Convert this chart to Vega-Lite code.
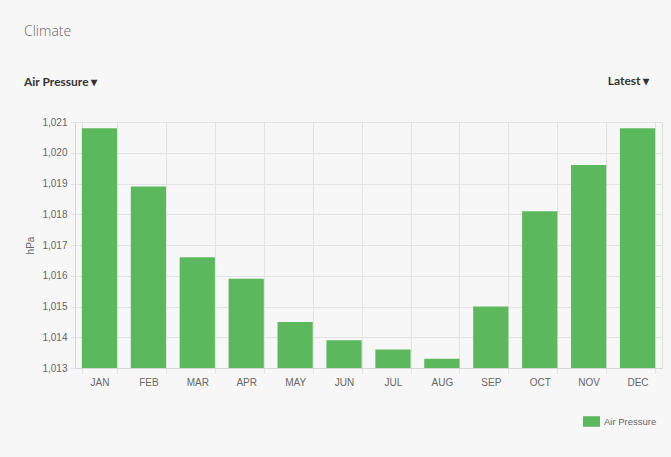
{
  "$schema": "https://vega.github.io/schema/vega-lite/v6.json",
  "width": 587,
  "height": 246,
  "autosize": {"type": "none"},
  "padding": {"left": 75, "top": 122, "right": 9, "bottom": 89},
  "background": "#f7f7f7",
  "title": {
    "text": "Climate",
    "subtitle": "Air Pressure ▾",
    "anchor": "start",
    "frame": "group",
    "dx": -51,
    "offset": -14,
    "font": "Open Sans",
    "fontSize": 14,
    "fontWeight": 300,
    "color": "#666666",
    "subtitleFont": "Lato",
    "subtitleFontSize": 12,
    "subtitleFontWeight": "bold",
    "subtitleColor": "#333333",
    "subtitlePadding": 38
  },
  "data": {
    "values": [
      {"month": "JAN", "pressure": 1020.8, "series": "Air Pressure"},
      {"month": "FEB", "pressure": 1018.9, "series": "Air Pressure"},
      {"month": "MAR", "pressure": 1016.6, "series": "Air Pressure"},
      {"month": "APR", "pressure": 1015.9, "series": "Air Pressure"},
      {"month": "MAY", "pressure": 1014.5, "series": "Air Pressure"},
      {"month": "JUN", "pressure": 1013.9, "series": "Air Pressure"},
      {"month": "JUL", "pressure": 1013.6, "series": "Air Pressure"},
      {"month": "AUG", "pressure": 1013.3, "series": "Air Pressure"},
      {"month": "SEP", "pressure": 1015.0, "series": "Air Pressure"},
      {"month": "OCT", "pressure": 1018.1, "series": "Air Pressure"},
      {"month": "NOV", "pressure": 1019.6, "series": "Air Pressure"},
      {"month": "DEC", "pressure": 1020.8, "series": "Air Pressure"}
    ]
  },
  "layer": [
    {
      "mark": {"type": "bar"},
      "encoding": {
        "x": {
          "field": "month",
          "type": "nominal",
          "sort": null,
          "scale": {"paddingInner": 0.28, "paddingOuter": 0.14},
          "axis": {
            "orient": "bottom",
            "title": null,
            "labelAngle": 0,
            "tickBand": "extent",
            "grid": true,
            "gridColor": "#e3e3e3",
            "domainColor": "#d6d6d6",
            "tickColor": "#e3e3e3",
            "tickSize": 5,
            "labelPadding": 4,
            "labelFont": "Liberation Sans",
            "labelFontSize": 10,
            "labelColor": "#666666"
          }
        },
        "y": {
          "field": "pressure",
          "type": "quantitative",
          "stack": null,
          "scale": {"domain": [1013, 1021], "zero": false, "nice": false},
          "axis": {
            "title": "hPa",
            "values": [1013, 1014, 1015, 1016, 1017, 1018, 1019, 1020, 1021],
            "format": ",",
            "labelOverlap": false,
            "gridColor": "#e3e3e3",
            "domainColor": "#d6d6d6",
            "tickColor": "#e3e3e3",
            "tickSize": 5,
            "labelPadding": 3,
            "labelFont": "Liberation Sans",
            "labelFontSize": 10,
            "labelColor": "#666666",
            "titleFont": "Liberation Sans",
            "titleFontSize": 10,
            "titleFontWeight": "normal",
            "titleColor": "#666666",
            "titlePadding": 6
          }
        },
        "color": {
          "field": "series",
          "type": "nominal",
          "scale": {"range": ["#5cb85c"]},
          "legend": {
            "title": null,
            "orient": "none",
            "legendX": 508,
            "legendY": 291,
            "padding": 0,
            "symbolType": "M-1,-0.62H1V0.62H-1Z",
            "symbolSize": 289,
            "symbolStrokeWidth": 0,
            "symbolOpacity": 1,
            "labelFont": "Liberation Sans",
            "labelFontSize": 9.5,
            "labelColor": "#666666",
            "labelOffset": 4
          }
        }
      }
    },
    {
      "mark": {"type": "bar", "opacity": 0},
      "encoding": {
        "x": {
          "field": "series",
          "type": "nominal",
          "axis": {
            "orient": "top",
            "labels": false,
            "ticks": false,
            "domain": false,
            "grid": false,
            "title": "Latest ▾",
            "titleX": 574,
            "titleAlign": "right",
            "titleAnchor": "end",
            "titleFont": "Lato",
            "titleFontSize": 12,
            "titleFontWeight": "bold",
            "titleColor": "#333333",
            "titlePadding": 35
          }
        }
      }
    }
  ],
  "resolve": {"scale": {"x": "independent"}, "axis": {"x": "independent"}}
}
